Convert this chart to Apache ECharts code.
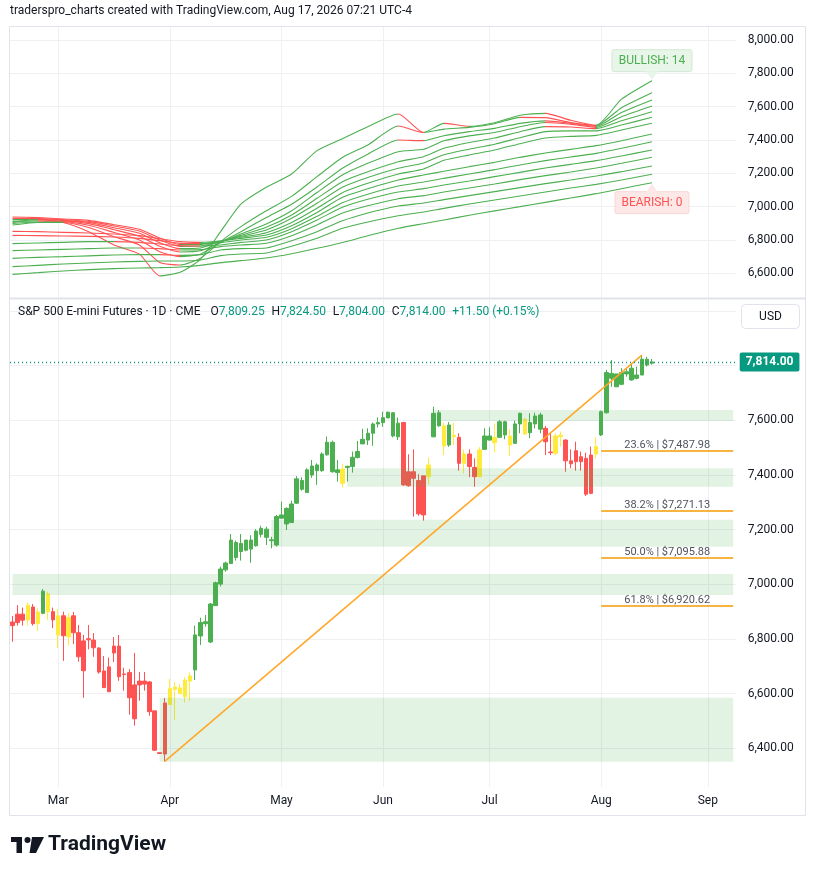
<!DOCTYPE html>
<html>
<head>
<meta charset="utf-8">
<title>S&amp;P 500 E-mini Futures 1D</title>
<script src="https://cdn.jsdelivr.net/npm/echarts@6.0.0/dist/echarts.min.js"></script>
<style>
  html, body { margin: 0; padding: 0; background: #ffffff; }
  #chart { width: 814px; height: 875px; }
</style>
</head>
<body>
<div id="chart"></div>
<script>
// trading sessions on the time axis (month -> days)
var tradingDays = [
    ['2026-02', [17, 18, 19, 20, 23, 24, 25, 26, 27]],
    ['2026-03', [2, 3, 4, 5, 6, 9, 10, 11, 12, 13, 16, 17, 18, 19, 20, 23, 24, 25, 26, 27, 30, 31]],
    ['2026-04', [1, 2, 3, 6, 7, 8, 9, 10, 13, 14, 15, 16, 17, 20, 21, 22, 23, 24, 27, 28, 29, 30]],
    ['2026-05', [1, 4, 5, 6, 7, 8, 11, 12, 13, 14, 15, 18, 19, 20, 21, 22, 26, 27, 28, 29]],
    ['2026-06', [1, 2, 3, 4, 5, 8, 9, 10, 11, 12, 15, 16, 17, 18, 22, 23, 24, 25, 26, 29, 30]],
    ['2026-07', [1, 2, 6, 7, 8, 9, 10, 13, 14, 15, 16, 17, 20, 21, 22, 23, 24, 27, 28, 29, 30, 31]],
    ['2026-08', [3, 4, 5, 6, 7, 10, 11, 12, 13, 14, 17, 18, 19, 20, 21, 24, 25, 26, 27, 28, 31]],
    ['2026-09', [1, 2, 3, 4, 8, 9]]
];
var monthNames = ['Jan', 'Feb', 'Mar', 'Apr', 'May', 'Jun', 'Jul', 'Aug', 'Sep', 'Oct', 'Nov', 'Dec'];

// daily candles, Feb 17 -> Aug 17
var opens = [6862,6891,6891,6870,6917,6899,6894,6965,6900,6885, 6885,6808,6885,6823,6793,6801,6796,6767,6683,6698,
    6774,6774,6672,6677,6632,6646,6646,6643,6537,6384, 6566,6560,6616,6621,6589,6646,6687,6811,6856,6789,
    6922,7001,7053,7076,7098,7120,7125,7129,7141,7183, 7172,7160,7144,7242,7221,7226,7297,7348,7336,7400,
    7416,7416,7474,7412,7409,7422,7428,7431,7464,7514, 7528,7553,7587,7592,7609,7543,7540,7592,7412,7412,
    7380,7397,7394,7540,7580,7580,7510,7546,7538,7443, 7477,7428,7394,7494,7528,7537,7538,7547,7543,7516,
    7587,7604,7555,7587,7568,7571,7484,7543,7546,7528, 7452,7489,7467,7461,7473,7477,7547,7628,7754,7723,
    7732,7770,7748,7754,7766,7824,7809.25];
var highs = [6884,6924,6915,6933,6928,6912,6983,6973,6915,6910, 6900,6895,6899,6851,6815,6851,6822,6770,6738,6732,
    6807,6815,6695,6690,6749,6679,6679,6646,6537,6385, 6584,6654,6643,6635,6660,6677,6849,6878,6888,6932,
    7010,7065,7083,7184,7160,7184,7162,7180,7202,7214, 7211,7174,7254,7303,7282,7306,7396,7392,7425,7455,
    7443,7483,7541,7526,7455,7441,7434,7486,7525,7569, 7571,7592,7611,7632,7632,7629,7610,7592,7476,7494,
    7403,7397,7464,7650,7638,7592,7594,7592,7553,7494, 7494,7461,7502,7571,7575,7589,7601,7599,7568,7599,
    7628,7608,7626,7628,7628,7580,7553,7553,7559,7531, 7494,7522,7486,7482,7504,7538,7636,7785,7821,7770,
    7791,7791,7807,7797,7839,7833,7824.5];
var lows = [6790,6849,6849,6849,6849,6830,6891,6870,6840,6768, 6720,6776,6781,6717,6585,6762,6735,6673,6622,6607,
    6716,6647,6611,6523,6483,6574,6611,6519,6390,6380, 6352,6560,6505,6600,6567,6574,6650,6778,6845,6785,
    6922,6992,7046,7076,7087,7087,7121,7079,7138,7172, 7144,7132,7138,7242,7199,7226,7294,7343,7336,7390,
    7364,7412,7471,7409,7376,7354,7376,7409,7461,7514, 7510,7507,7574,7577,7609,7538,7528,7361,7357,7248,
    7251,7233,7367,7538,7577,7473,7503,7510,7416,7406, 7392,7357,7394,7492,7526,7482,7538,7531,7470,7514,
    7553,7547,7535,7571,7553,7473,7473,7473,7504,7412, 7425,7416,7416,7323,7330,7461,7543,7625,7723,7723,
    7730,7760,7745,7750,7766,7797,7804];
var closes = [6849,6860,6869,6924,6856,6856,6975,6900,6870,6815, 6812,6878,6823,6735,6684,6797,6768,6679,6622,6607,
    6749,6662,6670,6585,6508,6632,6635,6534,6393,6381, 6379,6618,6624,6600,6650,6665,6815,6860,6863,6928,
    7006,7056,7078,7162,7153,7150,7162,7162,7195,7205, 7202,7163,7248,7254,7278,7294,7386,7380,7419,7433,
    7437,7477,7520,7520,7419,7370,7432,7465,7486,7531, 7553,7587,7592,7610,7630,7628,7590,7364,7361,7388,
    7258,7254,7437,7626,7628,7506,7583,7540,7443,7477, 7431,7394,7492,7543,7543,7518,7595,7595,7510,7587,
    7626,7550,7592,7616,7620,7522,7482,7480,7540,7452, 7441,7449,7449,7330,7333,7504,7632,7775,7772,7770,
    7775,7778,7791,7766,7824,7802.5,7814];
// bar colouring state of the indicator: g = bull, r = bear, y = neutral
var candleState = ('rrryrygyry' + 'ryrrrrrrrr' + 'rrrrrrrrrr' + 'ryyyyygggg' + 'gggggggggg' + 'gggggggggg' +
    'gggggygggg' + 'gggggggrrr' + 'rryggygyry' + 'rryggyggyg' + 'gygggrryyr' + 'rrrrrygggg' + 'ggggggg').split('');

// moving-average ribbon (upper pane), read at these bar numbers
var ribbonBars = [1, 6, 11, 16, 21, 26, 30, 34, 38, 42, 46, 51, 56, 61, 66, 71, 77, 82, 86, 91, 96, 101, 106, 111, 116, 121, 127];
var ma1  = [6905,6925,6905,6850,6770,6715,6585,6606,6684,6850,7015,7116,7196,7336,7408,7480,7556,7445,7500,7482,7504,7548,7560,7518,7488,7645,7756];
var ma2  = [6890,6905,6905,6875,6820,6770,6665,6650,6690,6790,6880,6975,7062,7180,7295,7370,7484,7445,7465,7476,7498,7536,7534,7505,7488,7594,7684];
var ma3  = [6900,6908,6910,6888,6845,6800,6730,6700,6715,6785,6850,6935,7015,7118,7230,7315,7400,7396,7425,7450,7470,7500,7515,7500,7482,7565,7640];
var ma4  = [6912,6915,6914,6898,6862,6822,6762,6728,6735,6786,6836,6896,6975,7085,7190,7260,7330,7344,7395,7425,7445,7480,7505,7495,7476,7540,7604];
var ma5  = [6922,6922,6918,6906,6874,6840,6784,6748,6752,6790,6828,6876,6950,7050,7150,7210,7270,7300,7350,7385,7412,7450,7480,7478,7468,7515,7570];
var ma6  = [6930,6928,6922,6912,6884,6854,6800,6762,6764,6792,6822,6860,6930,7020,7116,7175,7230,7262,7312,7345,7375,7414,7450,7455,7455,7490,7536];
var ma7  = [6938,6934,6926,6918,6892,6864,6812,6772,6774,6794,6816,6844,6905,6990,7084,7140,7196,7226,7278,7310,7340,7378,7412,7422,7428,7460,7500];
var ma8  = [6852,6850,6846,6842,6836,6826,6808,6790,6786,6794,6810,6830,6886,6965,7056,7108,7160,7190,7212,7240,7266,7296,7322,7344,7366,7396,7436];
var ma9  = [6828,6826,6824,6822,6818,6810,6796,6780,6778,6784,6800,6816,6868,6942,7024,7075,7124,7148,7170,7196,7222,7250,7276,7298,7320,7350,7390];
var ma10 = [6778,6782,6786,6790,6790,6786,6776,6766,6764,6770,6786,6800,6850,6920,6996,7044,7088,7108,7130,7154,7180,7206,7232,7254,7276,7304,7340];
var ma11 = [6736,6740,6744,6748,6752,6752,6748,6740,6742,6760,6770,6780,6826,6890,6962,7006,7048,7066,7088,7112,7136,7162,7186,7208,7232,7260,7296];
var ma12 = [6690,6696,6700,6705,6710,6712,6712,6708,6712,6740,6748,6752,6796,6850,6915,6962,7004,7022,7042,7066,7090,7114,7138,7160,7184,7210,7244];
var ma13 = [6640,6648,6656,6662,6668,6672,6674,6674,6680,6706,6716,6722,6762,6810,6870,6908,6945,6968,6990,7016,7040,7064,7088,7112,7134,7160,7194];
var ma14 = [6594,6604,6614,6622,6628,6632,6634,6638,6648,6664,6676,6692,6718,6750,6785,6825,6870,6898,6920,6948,6975,7000,7026,7052,7078,7108,7144];

// demand zones: [first bar, low, high]
var zones = [[84, 7598, 7638], [67, 7357, 7425], [52, 7138, 7236], [1, 6961, 7038], [30, 6351, 6585]];
// fibonacci retracement
var fibRatios = [0.236, 0.382, 0.5, 0.618];
var fibPrices = [7487.98, 7271.13, 7095.88, 6920.62];
var fibStartBar = 117;
// trend line: from bar low to bar high
var trendFromBar = 31, trendToBar = 125;

var GREEN = '#4caf50', RED = '#ff5252', YELLOW = '#ffeb3b', TEAL = '#089981', INK = '#131722', GRID = '#eef0f4';
var stateColor = { g: GREEN, r: RED, y: YELLOW };

var dates = [];
tradingDays.forEach(function (m) {
    m[1].forEach(function (d) { dates.push(m[0] + '-' + (d < 10 ? '0' + d : d)); });
});
function isMonthStart(i) {
    return i > 0 && dates[i].slice(0, 7) !== dates[i - 1].slice(0, 7);
}
function fmtPrice(v) {
    return v.toLocaleString('en-US', { minimumFractionDigits: 2, maximumFractionDigits: 2 });
}
function tickLabel(v) {
    return Math.abs(v % 200) < 1e-6 ? fmtPrice(v) : '';
}

var last = closes.length - 1;
var lastDate = dates[dates.length - 1];

var candleData = opens.map(function (o, i) {
    var c = stateColor[candleState[i]];
    return {
        value: [o, closes[i], lows[i], highs[i]],
        itemStyle: { color: c, color0: c, borderColor: c, borderColor0: c }
    };
});

var ribbon = [ma1, ma2, ma3, ma4, ma5, ma6, ma7, ma8, ma9, ma10, ma11, ma12, ma13, ma14];
var ribbonSeries = ribbon.map(function (vals) {
    return {
        type: 'line',
        xAxisIndex: 0,
        yAxisIndex: 0,
        showSymbol: false,
        smooth: 0.2,
        silent: true,
        lineStyle: { width: 1.1 },
        emphasis: { disabled: true },
        data: vals.map(function (v, j) { return [dates[ribbonBars[j] - 1], v]; })
    };
});
// red where a line is falling, green where it is rising
var ribbonMaps = ribbon.map(function (vals, k) {
    var pieces = [];
    for (var j = 0; j < vals.length - 1; j++) {
        var piece = { color: vals[j + 1] < vals[j] ? RED : GREEN };
        if (j > 0) piece.gte = ribbonBars[j] - 1;
        if (j < vals.length - 2) piece.lt = ribbonBars[j + 1] - 1;
        pieces.push(piece);
    }
    return { type: 'piecewise', show: false, seriesIndex: k, dimension: 0, pieces: pieces };
});

var zoneAreas = zones.map(function (z) {
    return [{ xAxis: dates[z[0] - 1], yAxis: z[1] }, { xAxis: lastDate, yAxis: z[2] }];
});

var fibLines = fibPrices.map(function (p, i) {
    return [
        { coord: [dates[fibStartBar - 1], p],
          lineStyle: { color: '#f59b00', width: 1.6, type: 'solid' },
          label: { show: true, position: 'insideMiddleTop', distance: 0, color: '#50535e', fontSize: 11,
                   formatter: (fibRatios[i] * 100).toFixed(1) + '% | $' + fmtPrice(p) } },
        { coord: [lastDate, p] }
    ];
});

var change = closes[last] - closes[last - 1];
var changePct = change / closes[last - 1] * 100;
var sign = change >= 0 ? '+' : '';

var monthInterval = function (index) { return isMonthStart(index); };

var option = {
    animation: false,
    backgroundColor: '#ffffff',
    textStyle: { fontFamily: 'Roboto, sans-serif' },
    visualMap: ribbonMaps,
    grid: [
        { left: 10, right: 78.3, top: 27, height: 271 },
        { left: 10, right: 78.3, top: 300, height: 487 }
    ],
    xAxis: [
        {
            type: 'category', gridIndex: 0, data: dates, boundaryGap: true,
            axisLine: { show: false }, axisTick: { show: false }, axisLabel: { show: false },
            splitLine: { show: true, alignWithLabel: true, interval: monthInterval,
                         lineStyle: { color: GRID, width: 1 } }
        },
        {
            type: 'category', gridIndex: 1, data: dates, boundaryGap: true,
            axisLine: { show: false }, axisTick: { show: false },
            axisLabel: { interval: monthInterval, color: INK, fontSize: 12, margin: 8,
                         formatter: function (value) { return monthNames[parseInt(value.slice(5, 7), 10) - 1]; } },
            splitLine: { show: true, alignWithLabel: true, interval: monthInterval,
                         lineStyle: { color: GRID, width: 1 } }
        }
    ],
    yAxis: [
        {
            type: 'value', gridIndex: 0, position: 'right', min: 6452, max: 8078,
            splitNumber: 8, minInterval: 200, maxInterval: 200, scale: true,
            axisLine: { show: false }, axisTick: { show: false },
            axisLabel: { formatter: tickLabel, color: INK, fontSize: 12, margin: 12 },
            splitLine: { show: true, showMinLine: false, showMaxLine: false, lineStyle: { color: GRID } }
        },
        {
            type: 'value', gridIndex: 1, position: 'right', min: 6258.4, max: 8040.6,
            splitNumber: 9, minInterval: 200, maxInterval: 200, scale: true,
            axisLine: { show: false }, axisTick: { show: false },
            axisLabel: { formatter: tickLabel, color: INK, fontSize: 12, margin: 12 },
            splitLine: { show: true, showMinLine: false, showMaxLine: false, lineStyle: { color: GRID } }
        }
    ],
    series: ribbonSeries.concat([
        {
            type: 'candlestick',
            name: 'ES1!',
            xAxisIndex: 1,
            yAxisIndex: 1,
            barWidth: 4,
            silent: true,
            itemStyle: { borderWidth: 1 },
            data: candleData,
            markArea: {
                silent: true,
                z: 3,
                itemStyle: { color: 'rgba(76,175,80,0.16)' },
                data: zoneAreas
            },
            markLine: {
                silent: true,
                symbol: ['none', 'none'],
                animation: false,
                data: [
                    [{ coord: [dates[trendFromBar - 1], lows[trendFromBar - 1]],
                       lineStyle: { color: '#ffa726', width: 1.5, type: 'solid' }, label: { show: false } },
                     { coord: [dates[trendToBar - 1], highs[trendToBar - 1]] }],
                    {
                        yAxis: closes[last],
                        lineStyle: { color: TEAL, width: 1.3, type: [1, 3] },
                        label: {
                            show: true, position: 'end', distance: 4,
                            formatter: fmtPrice(closes[last]),
                            color: '#ffffff', backgroundColor: TEAL, fontSize: 12, fontWeight: 'bold',
                            padding: [4, 6, 3, 6], borderRadius: 2
                        }
                    }
                ].concat(fibLines)
            }
        }
    ]),
    graphic: [
        { id: 'title', type: 'text', left: 10, top: 5,
          style: { text: 'traderspro_charts created with TradingView.com, Aug 17, 2026 07:21 UTC-4',
                   fill: INK, fontSize: 12, fontFamily: 'Roboto, sans-serif' } },
        { id: 'frame', type: 'rect', shape: { x: 9.5, y: 26.5, width: 796, height: 789 },
          style: { fill: 'none', stroke: '#e0e3eb', lineWidth: 1 }, silent: true, z: 10 },
        { id: 'sep', type: 'line', shape: { x1: 10, y1: 298.5, x2: 805, y2: 298.5 },
          style: { stroke: '#e0e3eb', lineWidth: 2 }, silent: true, z: 10 },
        { id: 'header', type: 'text', left: 18, top: 306, z: 10,
          style: {
              text: '{n|S&P 500 E-mini Futures · 1D · CME}   {n|O}{v|' + fmtPrice(opens[last]) + '}  {n|H}{v|' +
                    fmtPrice(highs[last]) + '}  {n|L}{v|' + fmtPrice(lows[last]) + '}  {n|C}{v|' +
                    fmtPrice(closes[last]) + '}  {v|' + sign + change.toFixed(2) + ' (' + sign + changePct.toFixed(2) + '%)}',
              rich: {
                  n: { fill: INK, fontSize: 12, fontFamily: 'Roboto, sans-serif' },
                  v: { fill: TEAL, fontSize: 12, fontFamily: 'Roboto, sans-serif' }
              }
          } },
        { id: 'usdBox', type: 'rect', shape: { x: 741.5, y: 304.5, width: 58, height: 24, r: 4 },
          style: { fill: '#ffffff', stroke: '#e0e3eb', lineWidth: 1 }, z: 10 },
        { id: 'usdText', type: 'text', x: 770.5, y: 316.5, z: 11,
          style: { text: 'USD', fill: INK, fontSize: 12, align: 'center', verticalAlign: 'middle',
                   fontFamily: 'Roboto, sans-serif' } },
        { id: 'logoBar', type: 'rect', shape: { x: 11, y: 837, width: 11, height: 5 }, style: { fill: INK } },
        { id: 'logoStem', type: 'rect', shape: { x: 16.5, y: 837, width: 5.5, height: 16 }, style: { fill: INK } },
        { id: 'logoDot', type: 'circle', shape: { cx: 27.5, cy: 840, r: 3 }, style: { fill: INK } },
        { id: 'logoSlash', type: 'polygon', shape: { points: [[32, 837], [44, 837], [36, 853], [29.5, 853]] },
          style: { fill: INK } },
        { id: 'logoText', type: 'text', x: 48, y: 845,
          style: { text: 'TradingView', fill: INK, fontSize: 21, fontWeight: 'bold', verticalAlign: 'middle',
                   fontFamily: 'Roboto, sans-serif' } }
    ]
};

var chart = echarts.init(document.getElementById('chart'));
chart.setOption(option);

// ribbon count badges, anchored to the last point of the fastest and slowest lines
var lastRibbonDate = dates[ribbonBars[ribbonBars.length - 1] - 1];
var topPt = chart.convertToPixel({ xAxisIndex: 0, yAxisIndex: 0 }, [lastRibbonDate, ma1[ma1.length - 1]]);
var botPt = chart.convertToPixel({ xAxisIndex: 0, yAxisIndex: 0 }, [lastRibbonDate, ma14[ma14.length - 1]]);
var bullCount = 0;
ribbon.forEach(function (vals) { if (vals[vals.length - 1] >= vals[vals.length - 2]) bullCount++; });
var bearCount = ribbon.length - bullCount;

chart.setOption({
    graphic: [
        { id: 'bullBox', type: 'rect', z: 12,
          shape: { x: topPt[0] - 40, y: topPt[1] - 31, width: 80, height: 22, r: 2 },
          style: { fill: '#e8f5e9', stroke: '#d3ead4', lineWidth: 1 } },
        { id: 'bullTip', type: 'polygon', z: 12,
          shape: { points: [[topPt[0] - 6, topPt[1] - 9.5], [topPt[0] + 6, topPt[1] - 9.5], [topPt[0], topPt[1] - 1]] },
          style: { fill: '#e8f5e9' } },
        { id: 'bullText', type: 'text', z: 13, x: topPt[0], y: topPt[1] - 20,
          style: { text: 'BULLISH: ' + bullCount, fill: GREEN, fontSize: 12, align: 'center',
                   verticalAlign: 'middle', fontFamily: 'Roboto, sans-serif' } },
        { id: 'bearBox', type: 'rect', z: 12,
          shape: { x: botPt[0] - 37, y: botPt[1] + 9, width: 74, height: 22, r: 2 },
          style: { fill: '#fde8e8', stroke: '#f8d7d7', lineWidth: 1 } },
        { id: 'bearTip', type: 'polygon', z: 12,
          shape: { points: [[botPt[0] - 6, botPt[1] + 9.5], [botPt[0] + 6, botPt[1] + 9.5], [botPt[0], botPt[1] + 1]] },
          style: { fill: '#fde8e8' } },
        { id: 'bearText', type: 'text', z: 13, x: botPt[0], y: botPt[1] + 20,
          style: { text: 'BEARISH: ' + bearCount, fill: RED, fontSize: 12, align: 'center',
                   verticalAlign: 'middle', fontFamily: 'Roboto, sans-serif' } }
    ]
});
</script>
</body>
</html>
